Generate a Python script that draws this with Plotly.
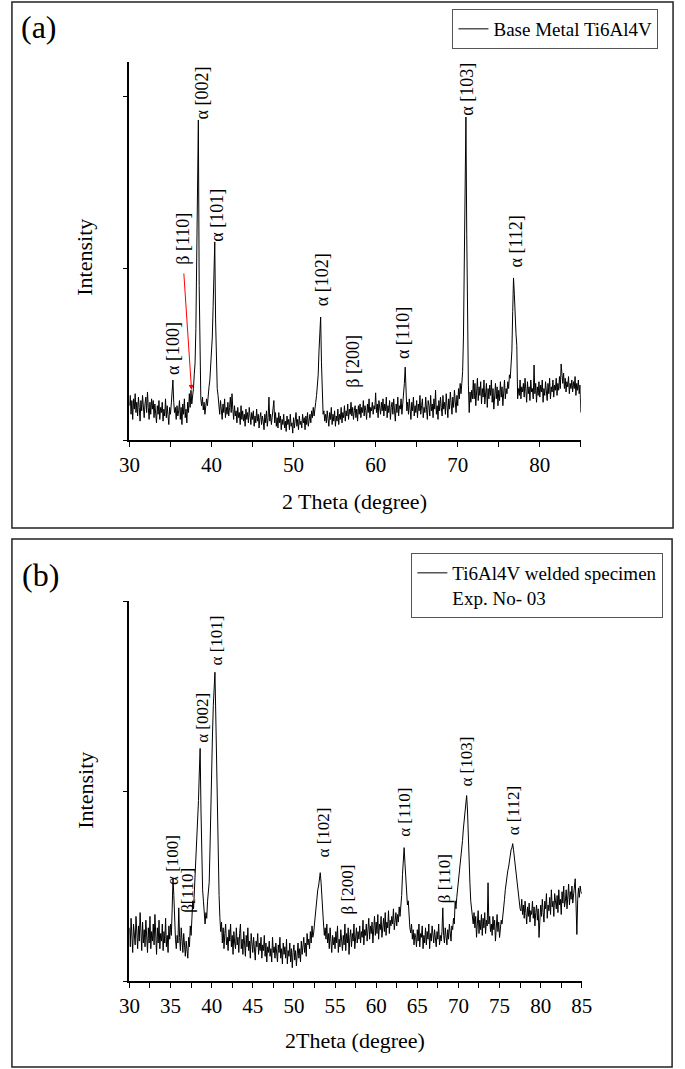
import numpy as np
import plotly.graph_objects as go

W, H = 685, 1069
SERIF = "Liberation Serif"

# 2-theta sampling grid (degree), 0.1 step
two_theta = np.round(np.arange(30.0, 85.0 + 1e-9, 0.1), 1)

# (a) base metal, counts (one row per degree)
intensity_base = [
    200, 260, 150, 230, 120, 240, 180, 270, 160, 220,
    140, 250, 190, 110, 230, 170, 260, 200, 130, 210,
    250, 160, 280, 190, 120, 220, 150, 240, 180, 230,
    130, 210, 170, 100, 200, 150, 230, 120, 190, 160,
    220, 110, 180, 140, 240, 130, 200, 160, 90, 190,
    150, 210, 280, 350, 220, 160, 190, 120, 200, 140,
    170, 230, 120, 190, 90, 210, 150, 240, 130, 180,
    100, 220, 160, 270, 190, 290, 210, 250, 300, 380,
    450, 650, 1100, 1600, 1866, 900, 320, 240, 200, 250,
    175, 220, 150, 190, 240, 200, 280, 310, 350, 420,
    480, 600, 780, 950, 1155, 700, 420, 300, 260, 200,
    150, 230, 170, 120, 210, 160, 240, 130, 190, 150,
    220, 140, 190, 250, 160, 270, 180, 120, 200, 140,
    170, 100, 190, 130, 160, 90, 200, 120, 170, 110,
    150, 80, 180, 120, 160, 100, 190, 130, 90, 160,
    120, 170, 80, 140, 100, 180, 110, 150, 70, 130,
    160, 90, 140, 110, 60, 150, 100, 170, 80, 130,
    250, 110, 150, 90, 140, 200, 230, 100, 160, 80,
    130, 70, 160, 100, 140, 60, 120, 90, 150, 70,
    110, 50, 140, 90, 120, 60, 150, 80, 100, 40,
    130, 70, 110, 160, 80, 120, 60, 140, 90, 110,
    70, 150, 100, 130, 60, 140, 90, 160, 80, 120,
    150, 100, 170, 130, 190, 140, 170, 220, 260, 320,
    380, 520, 680, 717, 450, 230, 150, 170, 110, 150,
    100, 170, 130, 80, 160, 120, 190, 90, 150, 110,
    170, 80, 140, 110, 180, 90, 150, 120, 190, 100,
    160, 130, 200, 110, 170, 140, 210, 120, 180, 150,
    220, 140, 190, 120, 170, 200, 130, 180, 110, 200,
    150, 210, 130, 190, 160, 230, 140, 200, 170, 120,
    210, 160, 240, 130, 190, 170, 220, 150, 200, 180,
    275, 160, 210, 130, 230, 180, 150, 220, 170, 240,
    140, 210, 170, 250, 130, 200, 160, 230, 120, 190,
    220, 150, 240, 170, 110, 210, 160, 250, 140, 200,
    180, 240, 150, 210, 260, 330, 425, 260, 170, 220,
    150, 240, 180, 120, 220, 170, 250, 140, 200, 160,
    230, 130, 210, 170, 260, 150, 200, 240, 130, 190,
    160, 250, 180, 120, 230, 200, 140, 260, 170, 210,
    130, 240, 180, 290, 150, 200, 120, 230, 170, 250,
    190, 140, 260, 180, 220, 150, 270, 200, 130, 240,
    180, 280, 210, 150, 250, 190, 290, 220, 160, 260,
    200, 300, 240, 330, 270, 330, 400, 600, 1100, 1600,
    1883, 1200, 500, 320, 160, 280, 220, 290, 240, 350,
    240, 330, 200, 290, 360, 230, 310, 260, 340, 210,
    300, 250, 350, 210, 280, 330, 190, 300, 240, 320,
    260, 350, 220, 300, 180, 280, 330, 240, 310, 200,
    290, 230, 340, 250, 310, 200, 280, 350, 240, 300,
    270, 340, 300, 380, 360, 420, 520, 750, 945, 850,
    700, 620, 550, 240, 300, 260, 350, 240, 310, 280,
    330, 250, 360, 280, 220, 340, 270, 310, 230, 350,
    280, 300, 240, 437, 270, 330, 220, 310, 260, 340,
    250, 320, 280, 350, 220, 300, 260, 340, 290, 230,
    330, 270, 360, 240, 310, 280, 350, 250, 320, 290,
    360, 260, 330, 290, 370, 300, 443, 380, 330, 390,
    300, 360, 280, 340, 310, 370, 270, 330, 300, 350,
    280, 340, 300, 370, 260, 330, 290, 350, 270, 320,
    160,
]

# (b) welded specimen, exp. no 03
intensity_weld = [
    280, 180, 330, 220, 150, 300, 250, 190, 340, 230,
    170, 290, 210, 360, 240, 160, 310, 200, 270, 180,
    320, 220, 150, 280, 200, 340, 170, 260, 210, 300,
    190, 350, 230, 140, 280, 200, 320, 170, 250, 210,
    300, 160, 260, 200, 330, 180, 240, 150, 290, 220,
    300, 240, 380, 543, 450, 280, 220, 170, 240, 200,
    385, 230, 160, 280, 190, 150, 250, 170, 130, 210,
    160, 120, 230, 180, 290, 240, 330, 422, 380, 480,
    520, 650, 720, 800, 950, 1100, 1224, 900, 620, 480,
    420, 350, 300, 360, 330, 420, 460, 520, 700, 950,
    1161, 1300, 1450, 1560, 1625, 1400, 1100, 800, 598, 450,
    334, 260, 310, 200, 280, 170, 250, 300, 190, 230,
    160, 270, 210, 300, 180, 240, 140, 260, 200, 170,
    280, 190, 230, 150, 250, 300, 170, 220, 140, 260,
    200, 130, 240, 180, 280, 160, 210, 120, 250, 190,
    150, 230, 170, 110, 210, 180, 250, 140, 200, 160,
    230, 120, 190, 160, 240, 130, 200, 100, 180, 150,
    210, 130, 170, 100, 230, 150, 180, 120, 200, 140,
    100, 190, 150, 230, 120, 170, 90, 200, 140, 180,
    120, 220, 90, 160, 130, 200, 100, 170, 70, 150,
    190, 110, 160, 80, 140, 200, 120, 170, 100, 210,
    140, 180, 230, 150, 200, 130, 250, 190, 220, 170,
    260, 200, 290, 230, 253, 300, 350, 400, 430, 480,
    500, 540, 570, 520, 420, 350, 300, 240, 280, 220,
    300, 200, 250, 170, 280, 210, 150, 240, 190, 230,
    170, 260, 200, 290, 150, 220, 180, 270, 210, 160,
    240, 190, 300, 160, 250, 200, 280, 140, 230, 270,
    180, 250, 210, 300, 170, 240, 280, 200, 260, 220,
    290, 200, 260, 230, 320, 190, 270, 240, 300, 210,
    270, 330, 220, 290, 250, 310, 200, 280, 340, 240,
    310, 250, 350, 220, 300, 270, 340, 230, 290, 330,
    260, 360, 240, 310, 280, 370, 250, 320, 290, 340,
    300, 380, 270, 330, 360, 290, 350, 310, 390, 340,
    380, 450, 560, 650, 702, 620, 520, 450, 400, 422,
    330, 280, 253, 300, 220, 270, 190, 250, 230, 180,
    270, 210, 300, 180, 250, 230, 290, 170, 240, 200,
    280, 190, 260, 220, 300, 170, 250, 210, 290, 230,
    200, 270, 230, 180, 260, 220, 300, 190, 240, 210,
    260, 385, 240, 200, 280, 230, 190, 270, 220, 300,
    250, 210, 290, 270, 330, 300, 422, 380, 440, 480,
    520, 560, 600, 640, 700, 740, 800, 850, 900, 940,
    976, 900, 720, 600, 512, 420, 380, 334, 300, 360,
    280, 340, 230, 300, 370, 250, 320, 270, 350, 240,
    330, 280, 360, 250, 320, 290, 517, 300, 340, 260,
    300, 240, 340, 270, 320, 210, 290, 350, 260, 310,
    229, 280, 320, 300, 360, 400, 430, 480, 520, 560,
    580, 600, 633, 660, 690, 700, 723, 690, 650, 600,
    580, 520, 475, 430, 410, 380, 369, 430, 350, 400,
    330, 420, 360, 300, 390, 340, 410, 310, 370, 350,
    420, 330, 390, 290, 360, 400, 320, 380, 229, 310,
    400, 340, 430, 360, 310, 420, 380, 460, 330, 400,
    370, 440, 350, 480, 390, 420, 340, 460, 400, 380,
    450, 360, 480, 400, 430, 350, 470, 410, 500, 390,
    420, 480, 380, 450, 510, 400, 470, 430, 500, 410,
    460, 520, 538, 400, 245, 430, 490, 440, 500, 470,
    459,
]

assert len(intensity_base) == len(two_theta) == len(intensity_weld)

peaks_a = ["α [100]", "β [110]", "α [002]", "α [101]", "α [102]",
           "β [200]", "α [110]", "α [103]", "α [112]"]
peaks_b = ["α [100]", "β[110]", "α [002]", "α [101]", "α [102]",
           "β [200]", "α [110]", "β [110]", "α [103]", "α [112]"]

# where the rotated peak labels sit (degree, counts)
pos_a = [(35.3, 536), (36.5, 1172), (38.9, 2023), (40.65, 1312), (53.5, 933),
         (57.2, 460), (63.35, 624), (71.1, 2047), (77.05, 1155)]
pos_b = [(35.3, 637), (37.1, 479), (38.8, 1384), (40.6, 1790), (53.6, 779),
         (56.5, 484), (63.35, 889), (68.4, 537), (71.0, 1153), (76.8, 895)]


def px(x):
    return x / W


def py(y):
    return 1 - y / H


fig = go.Figure()
fig.add_trace(go.Scatter(
    x=two_theta, y=intensity_base, mode="lines",
    line=dict(color="black", width=1),
    name="Base Metal Ti6Al4V", xaxis="x", yaxis="y", legend="legend",
))
fig.add_trace(go.Scatter(
    x=two_theta, y=intensity_weld, mode="lines",
    line=dict(color="black", width=1),
    name="Ti6Al4V welded specimen<br>Exp. No- 03", xaxis="x2", yaxis="y2", legend="legend2",
))

_AXIS = dict(
    showline=True, linecolor="black", linewidth=1.5,
    ticks="outside", ticklen=5, tickwidth=1.2, tickcolor="black",
    showgrid=False, zeroline=False,
    tickfont=dict(family=SERIF, size=21, color="black"),
)
_LEGEND = dict(
    xanchor="right", yanchor="top", bgcolor="white",
    bordercolor="#555", borderwidth=1,
    font=dict(family=SERIF, size=19, color="black"),
    visible=True,
)

annotations = []
for txt, (xx, yy) in zip(peaks_a, pos_a):
    annotations.append(dict(x=xx, y=yy, xref="x", yref="y", text=txt, textangle=-90,
                            showarrow=False, xanchor="center", yanchor="middle",
                            font=dict(family=SERIF, size=18, color="black")))
for txt, (xx, yy) in zip(peaks_b, pos_b):
    annotations.append(dict(x=xx, y=yy, xref="x2", yref="y2", text=txt, textangle=-90,
                            showarrow=False, xanchor="center", yanchor="middle",
                            font=dict(family=SERIF, size=17, color="black")))

# red arrow pointing to the weak beta peak
annotations.append(dict(x=37.57, y=292, ax=36.62, ay=980, xref="x", yref="y",
                        axref="x", ayref="y", text="", showarrow=True,
                        arrowhead=2, arrowsize=1, arrowwidth=1, arrowcolor="red"))

# panel tags and axis titles
for txt, xx, yy, size, ang in [
    ("(a)", 30, 27, 32, 0),
    ("(b)", 31, 575, 32, 0),
    ("Intensity", 77, 257, 22, -90),
    ("Intensity", 77, 790, 22, -90),
    ("2 Theta (degree)", 355, 502, 22, 0),
    ("2Theta (degree)", 355, 1040, 22, 0),
]:
    annotations.append(dict(x=px(xx), y=py(yy), xref="paper", yref="paper", text=txt,
                            textangle=ang, showarrow=False, xanchor="center", yanchor="middle",
                            font=dict(family=SERIF, size=size, color="black")))

shapes = [
    dict(type="rect", xref="paper", yref="paper", x0=px(2), x1=px(683), y0=py(528), y1=py(2),
         line=dict(color="#222", width=1.5)),
    dict(type="rect", xref="paper", yref="paper", x0=px(2), x1=px(682), y0=py(1067), y1=py(539),
         line=dict(color="#222", width=1.5)),
]

fig.update_layout(
    margin=dict(l=0, r=0, t=0, b=0),
    paper_bgcolor="white", plot_bgcolor="white",
    showlegend=True,
    xaxis=dict(**_AXIS, domain=[px(123), px(588)], range=[30, 85], tick0=30, dtick=10,
               minor=dict(dtick=5, ticks="outside", ticklen=5, tickwidth=1.2, tickcolor="black"),
               anchor="y"),
    yaxis=dict(**_AXIS, domain=[py(440), py(62)], range=[0, 2204],
               tickvals=[0, 1000, 2000], showticklabels=False, anchor="x"),
    xaxis2=dict(**_AXIS, domain=[px(123), px(589)], range=[30, 85], tick0=30, dtick=5,
                minor=dict(dtick=2.5, ticks="outside", ticklen=5, tickwidth=1.2, tickcolor="black"),
                anchor="y2"),
    yaxis2=dict(**_AXIS, domain=[py(981), py(601)], range=[0, 2000],
                tickvals=[0, 1000, 2000], showticklabels=False, anchor="x2"),
    legend=dict(**_LEGEND, x=px(668), y=py(9)),
    legend2=dict(**_LEGEND, x=px(673), y=py(553), valign="top"),
    annotations=annotations,
    shapes=shapes,
)

# figure fills the whole 685x1069 window, no page margin or scrollbars
fig.write_html(
    "out.html",
    default_width="100vw", default_height="100vh",
    config={"displayModeBar": False},
    post_script="document.body.style.margin='0';document.body.style.overflow='hidden';",
)
